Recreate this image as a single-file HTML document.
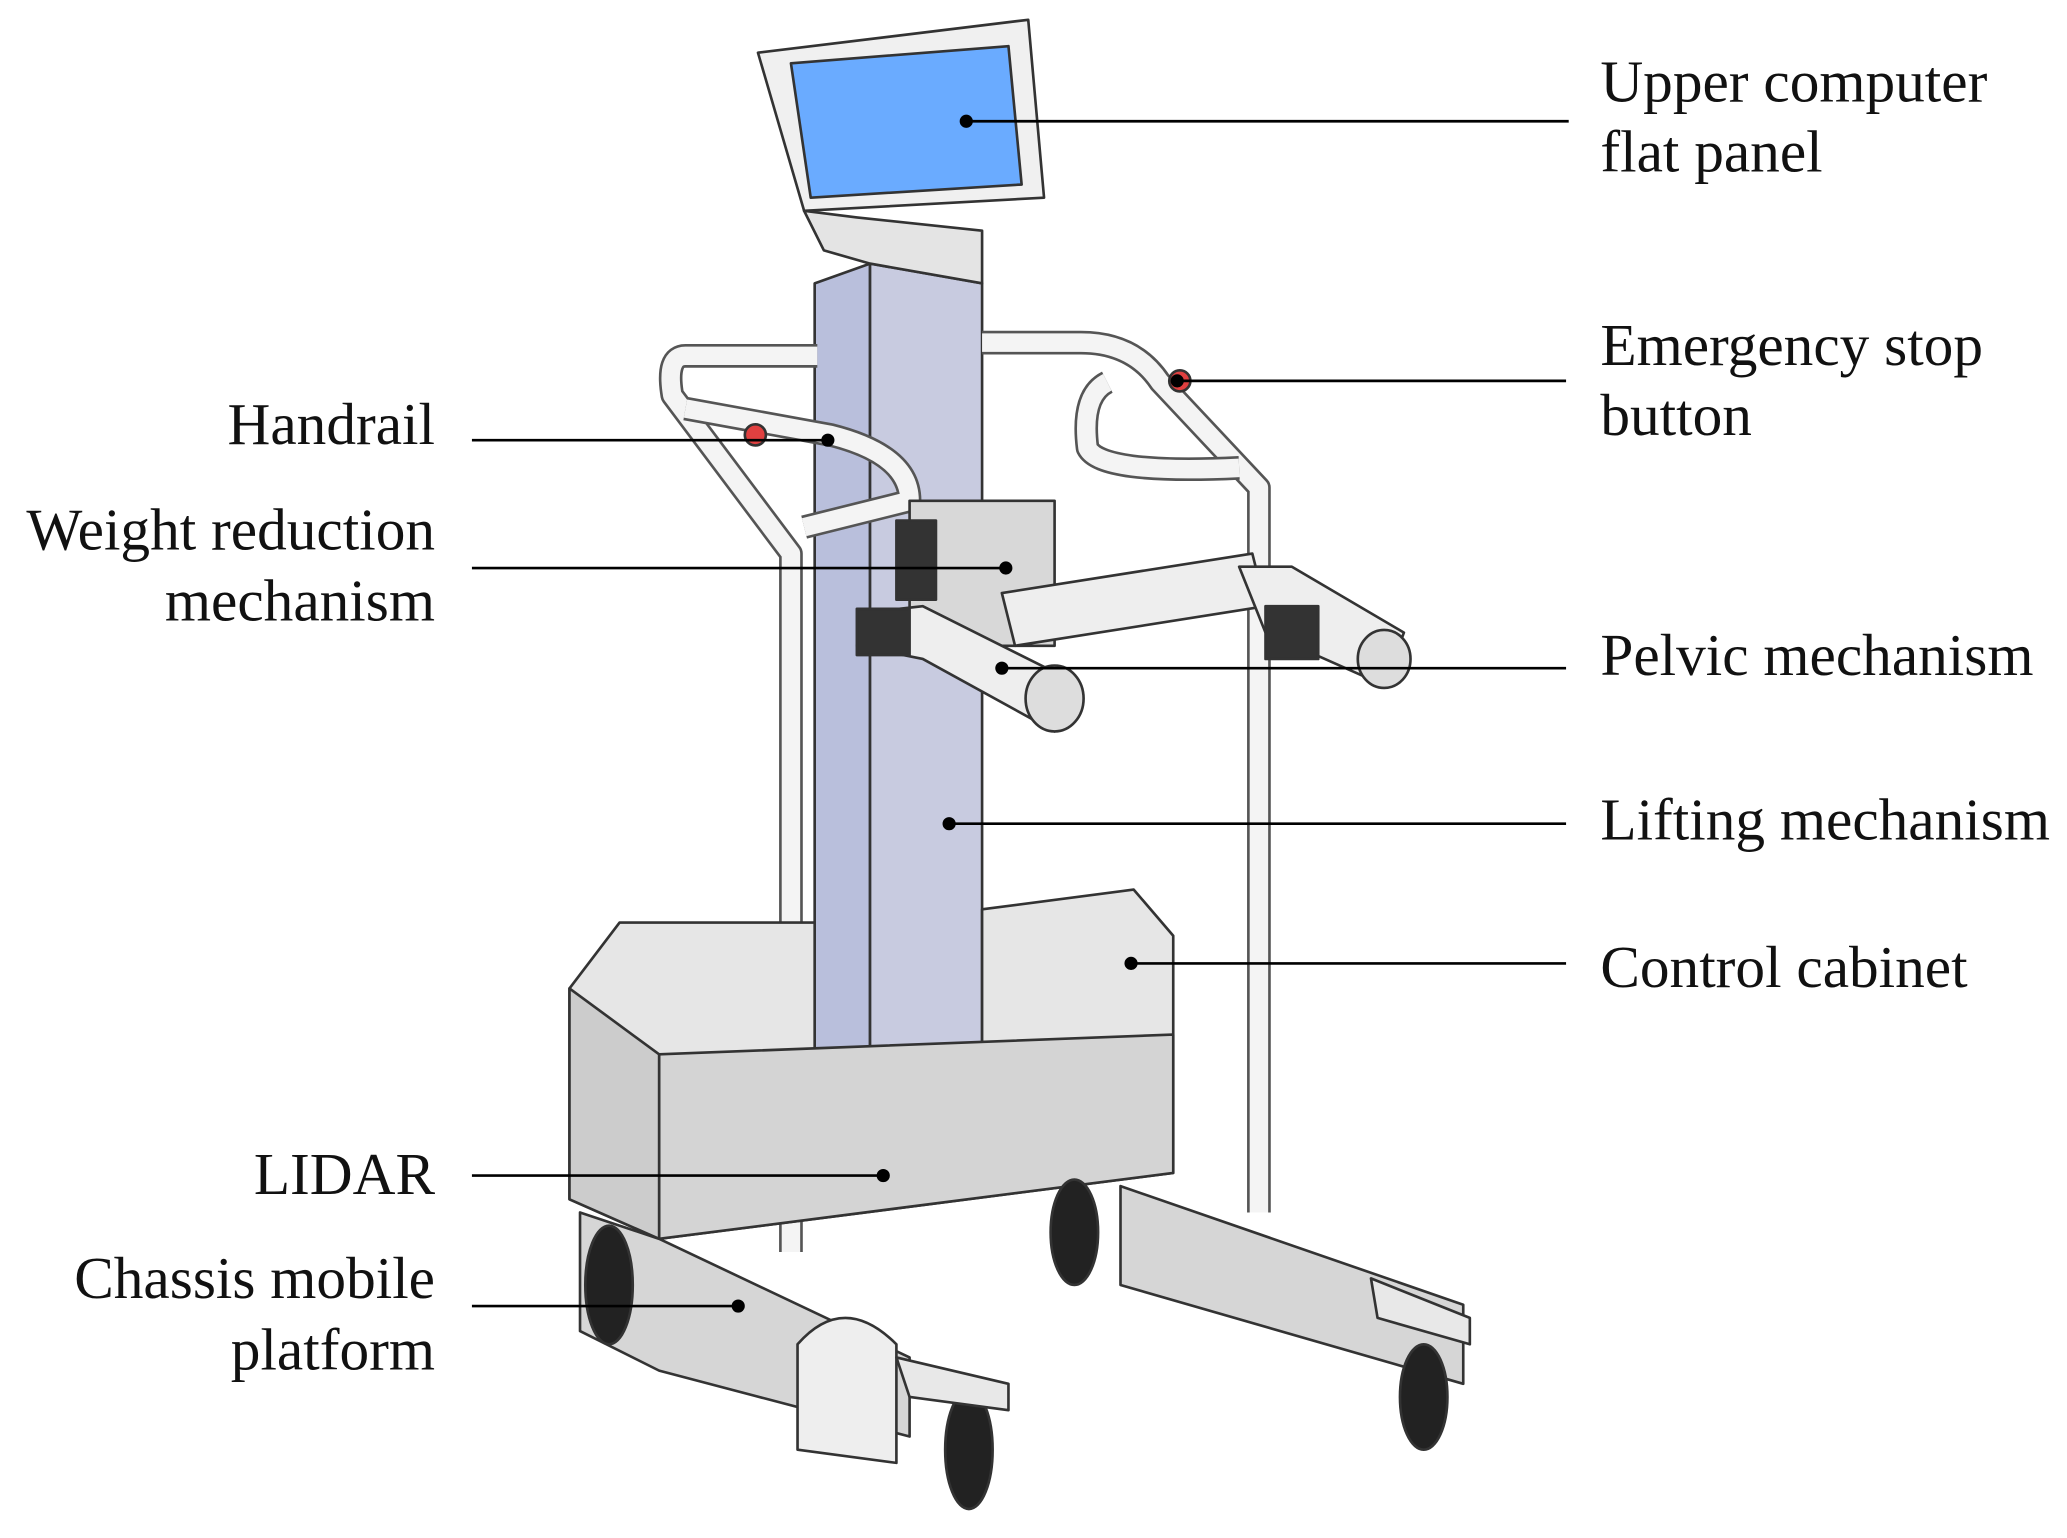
<!DOCTYPE html>
<html><head><meta charset="utf-8"><style>
html,body{margin:0;padding:0;background:#fff;}
svg{display:block;}
text{font-family:"Liberation Serif",serif;font-size:45px;fill:#111;}
</style></head><body>
<svg width="2067" height="1538" viewBox="0 0 1568 1167" preserveAspectRatio="none" xmlns="http://www.w3.org/2000/svg">
<rect width="1568" height="1167" fill="#fff"/>
<g stroke="#333" stroke-width="2" stroke-linejoin="round">
<polygon points="618,215 660,200 660,810 618,800" fill="#b9bfdc"/>
<polygon points="660,200 745,215 745,810 660,810" fill="#c8cbe0"/>
<polygon points="575,40 780,15 792,150 610,160" fill="#f0f0f0"/>
<polygon points="600,48 765,35 775,140 615,150" fill="#6aabff"/>
<polygon points="610,160 650,165 745,175 745,215 660,200 625,190" fill="#e4e4e4"/>
<path d="M620,270 H520 Q505,270 510,300 L600,420 L600,950" fill="none" stroke="#555" stroke-width="18"/>
<path d="M620,270 H520 Q505,270 510,300 L600,420 L600,950" fill="none" stroke="#f4f4f4" stroke-width="14"/>
<path d="M745,260 H820 Q860,260 880,290 L955,370 L955,920" fill="none" stroke="#555" stroke-width="18"/>
<path d="M745,260 H820 Q860,260 880,290 L955,370 L955,920" fill="none" stroke="#f4f4f4" stroke-width="14"/>
<path d="M520,310 L630,330 Q690,345 690,380 L610,400" fill="none" stroke="#555" stroke-width="18"/>
<path d="M520,310 L630,330 Q690,345 690,380 L610,400" fill="none" stroke="#f4f4f4" stroke-width="14"/>
<path d="M840,290 Q820,300 825,340 Q835,360 940,355" fill="none" stroke="#555" stroke-width="18"/>
<path d="M840,290 Q820,300 825,340 Q835,360 940,355" fill="none" stroke="#f4f4f4" stroke-width="14"/>
<circle cx="573" cy="330" r="8" fill="#e04040"/>
<circle cx="895" cy="289" r="8" fill="#e04040"/>
<rect x="690" y="380" width="110" height="110" fill="#d8d8d8"/>
<rect x="680" y="395" width="30" height="60" fill="#333"/>
<polygon points="760,450 950,420 960,460 770,490" fill="#eee"/>
<polygon points="655,465 700,460 820,520 800,555 700,500 650,490" fill="#eee"/>
<ellipse cx="800" cy="530" rx="22" ry="25" fill="#ddd"/>
<polygon points="940,430 980,430 1065,480 1050,520 960,480" fill="#eee"/>
<ellipse cx="1050" cy="500" rx="20" ry="22" fill="#ddd"/>
<rect x="650" y="462" width="40" height="35" fill="#333"/>
<rect x="960" y="460" width="40" height="40" fill="#333"/>
<polygon points="432,750 470,700 618,700 618,800 745,800 745,690 860,675 890,710 890,890 500,940 432,910" fill="#e6e6e6"/>
<polygon points="500,800 890,785 890,890 500,940" fill="#d4d4d4"/>
<polygon points="432,750 500,800 500,940 432,910" fill="#ccc"/>
<polygon points="440,920 500,940 690,1030 690,1090 500,1040 440,1010" fill="#d6d6d6"/>
<polygon points="850,900 1110,990 1110,1050 850,975" fill="#d6d6d6"/>
<ellipse cx="462" cy="975" rx="18" ry="45" fill="#222"/>
<ellipse cx="815" cy="935" rx="18" ry="40" fill="#222"/>
<ellipse cx="735" cy="1100" rx="18" ry="45" fill="#222"/>
<ellipse cx="1080" cy="1060" rx="18" ry="40" fill="#222"/>
<path d="M605,1100 V1020 Q640,980 680,1020 V1110 Z" fill="#eee"/>
<path d="M680,1030 L765,1050 L765,1070 L690,1060 Z" fill="#e8e8e8"/>
<path d="M1040,970 L1115,1000 L1115,1020 L1045,1000 Z" fill="#e8e8e8"/>
</g>
<g stroke="#000" stroke-width="2">
<line x1="733" y1="92" x2="1190" y2="92"/>
<line x1="893" y1="289" x2="1188" y2="289"/>
<line x1="760" y1="507" x2="1188" y2="507"/>
<line x1="720" y1="625" x2="1188" y2="625"/>
<line x1="858" y1="731" x2="1188" y2="731"/>
<line x1="358" y1="334" x2="628" y2="334"/>
<line x1="358" y1="431" x2="763" y2="431"/>
<line x1="358" y1="892" x2="670" y2="892"/>
<line x1="358" y1="991" x2="560" y2="991"/>
</g>
<g fill="#000">
<circle cx="733" cy="92" r="5"/><circle cx="893" cy="289" r="5"/><circle cx="760" cy="507" r="5"/>
<circle cx="720" cy="625" r="5"/><circle cx="858" cy="731" r="5"/><circle cx="628" cy="334" r="5"/>
<circle cx="763" cy="431" r="5"/><circle cx="670" cy="892" r="5"/><circle cx="560" cy="991" r="5"/>
</g>
<text x="1214" y="77">Upper computer</text>
<text x="1214" y="130">flat panel</text>
<text x="1214" y="277">Emergency stop</text>
<text x="1214" y="330">button</text>
<text x="1214" y="512">Pelvic mechanism</text>
<text x="1214" y="637">Lifting mechanism</text>
<text x="1214" y="749">Control cabinet</text>
<g text-anchor="end">
<text x="330" y="337">Handrail</text>
<text x="330" y="417">Weight reduction</text>
<text x="330" y="471">mechanism</text>
<text x="330" y="906">LIDAR</text>
<text x="330" y="985">Chassis mobile</text>
<text x="330" y="1039">platform</text>
</g>
</svg>
</body></html>
